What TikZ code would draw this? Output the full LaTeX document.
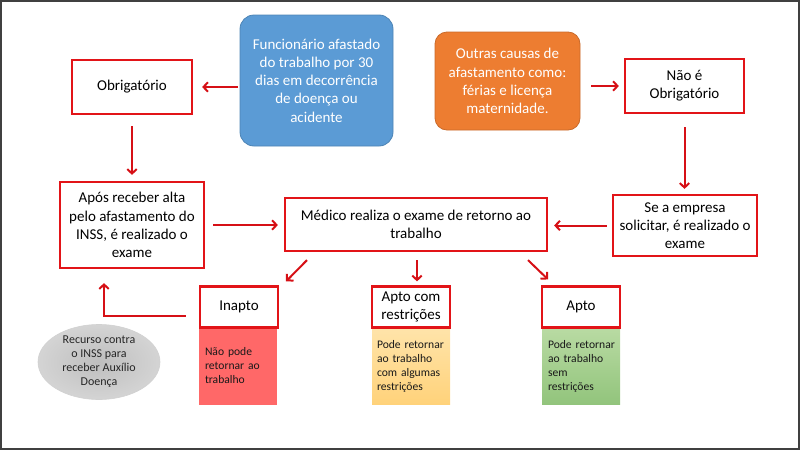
\documentclass[tikz,border=0pt]{standalone}
\usepackage{fontspec}
\setmainfont{Carlito}
\usetikzlibrary{arrows.meta,shapes.geometric}
\definecolor{boxred}{RGB}{226,20,24}
\definecolor{arrred}{RGB}{214,16,22}
\definecolor{obblue}{RGB}{91,155,213}
\definecolor{oborange}{RGB}{237,125,49}
\definecolor{inred}{RGB}{255,104,104}
\definecolor{ytop}{RGB}{255,228,170}
\definecolor{ybot}{RGB}{255,210,122}
\definecolor{gtop}{RGB}{185,219,163}
\definecolor{gbot}{RGB}{146,196,124}
\definecolor{elin}{RGB}{190,190,190}
\definecolor{elout}{RGB}{212,212,212}
\tikzset{
  bigtxt/.style={font=\fontsize{15}{18.3}\selectfont},
  smalltxt/.style={font=\fontsize{11.6}{14}\selectfont},
  redbox/.style={draw=boxred, line width=2.2pt, fill=white, bigtxt, align=center, inner sep=0pt},
  cbox/.style={rounded corners=14pt, line width=0.8pt, text=white, bigtxt, align=center, inner sep=0pt},
  resbox/.style={smalltxt, align=left, inner xsep=6pt, inner ysep=0pt, text width=66pt, minimum height=77pt, text=black!90},
  arr/.style={draw=arrred, line width=2pt, -{Straight Barb[length=4.5pt,width=9.5pt,line width=2pt]}}
}
\begin{document}
\begin{tikzpicture}[x=1pt,y=-1pt]
\useasboundingbox (0,0) rectangle (800,450);
\draw[line width=1.6pt, draw=black!75] (0.8,0.8) rectangle (799.2,449.2);

\node[cbox, fill=obblue, draw=obblue!85!black, minimum width=153pt, minimum height=131pt] (blue) at (316.5,80.5)
  {Funcionário afastado\\do trabalho por 30\\dias em decorrência\\de doença ou\\acidente};
\node[cbox, rounded corners=12pt, fill=oborange, draw=oborange!85!black, minimum width=145pt, minimum height=98pt] (orange) at (507.5,81)
  {Outras causas de\\afastamento como:\\férias e licença\\maternidade.};

\node[redbox, minimum width=120pt, minimum height=54pt] (obrig) at (132,87) {Obrigatório};
\node[redbox, minimum width=119pt, minimum height=54pt] (nao) at (684.5,86) {Não é\\Obrigatório};

\node[redbox, minimum width=144pt, minimum height=86pt] (apos) at (132,225)
  {Após receber alta\\pelo afastamento do\\INSS, é realizado o\\exame};
\node[redbox, minimum width=262pt, minimum height=53pt] (medico) at (416,224.5)
  {Médico realiza o exame de retorno ao\\trabalho};
\node[redbox, minimum width=144pt, minimum height=61pt] (se) at (685,225.5)
  {Se a empresa\\solicitar, é realizado o\\exame};

\node[resbox, fill=inred] (rin) at (238,366) {\mbox{Não pode}\\\mbox{retornar ao}\\\mbox{trabalho}};
\node[resbox, top color=ytop, bottom color=ybot, inner xsep=5pt, text width=68pt] (rac) at (411,366) {\mbox{Pode retornar}\\\mbox{ao trabalho}\\\mbox{com algumas}\\\mbox{restrições}};
\node[resbox, top color=gtop, bottom color=gbot] (rap) at (581,366) {\mbox{Pode retornar}\\\mbox{ao trabalho}\\\mbox{sem}\\\mbox{restrições}};

\node[redbox, minimum width=78pt, minimum height=41pt] (inapto) at (239,307) {Inapto};
\node[redbox, minimum width=78pt, minimum height=41pt] (aptoc) at (411,307) {Apto com\\restrições};
\node[redbox, minimum width=78pt, minimum height=41pt] (apto) at (581,307) {Apto};

\node[ellipse, inner color=elin, outer color=elout, draw=black!18, line width=0.6pt, minimum width=122pt, minimum height=75pt, inner sep=0pt,
  font=\fontsize{12}{14}\selectfont, align=center, text=black!85] (recurso) at (99,362)
  {Recurso contra\\o INSS para\\receber Auxílio\\Doença};

\draw[arr, shorten <=2pt, shorten >=9pt] (blue.west |- obrig.east) -- (obrig.east);
\draw[arr, shorten <=11pt, shorten >=5pt] (orange.east |- nao.west) -- (nao.west);
\draw[arr, shorten <=11pt, shorten >=6pt] (obrig.south) -- (apos.north);
\draw[arr, shorten <=13pt, shorten >=5pt] (nao.south) -- (se.north -| nao.south);
\draw[arr, shorten <=8pt, shorten >=6pt] (apos.east) -- (medico.west |- apos.east);
\draw[arr, shorten <=5pt, shorten >=6pt] (se.west) -- (medico.east |- se.west);
\draw[arr] ([shift={(-109,8)}]medico.south) -- ([shift={(47,-4)}]inapto.north);
\draw[arr] ([shift={(1,8)}]medico.south) -- ([shift={(6,-4)}]aptoc.north);
\draw[arr] ([shift={(112,8)}]medico.south) -- ([shift={(-33,-6)}]apto.north);
\draw[arr] ([shift={(-13,9)}]inapto.west) -| ([shift={(-28,14)}]apos.south);
\end{tikzpicture}
\end{document}
